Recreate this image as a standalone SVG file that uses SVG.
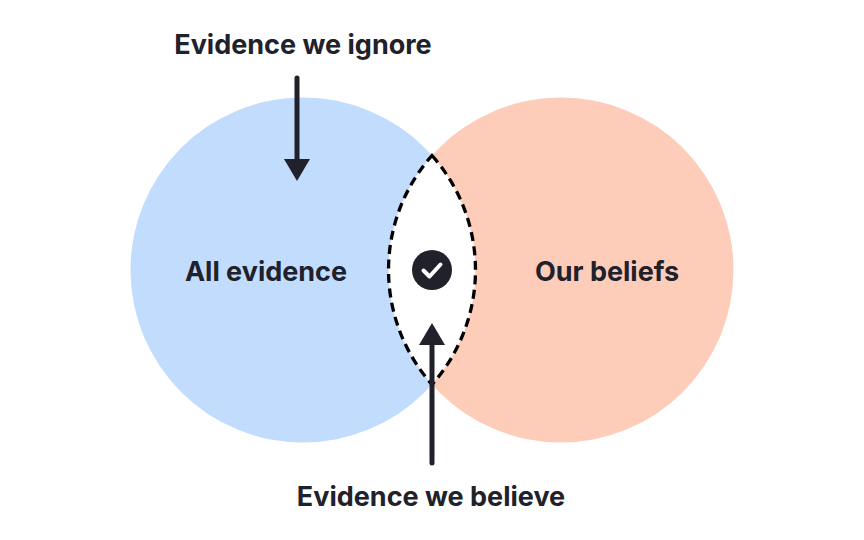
<svg xmlns="http://www.w3.org/2000/svg" width="864" height="540" viewBox="0 0 864 540">
<style>
text{font-family:Inter,"Liberation Sans",sans-serif;font-weight:700;fill:#20212b;font-size:27px;text-anchor:middle}
.ln{stroke:#20212b;stroke-width:5;stroke-linecap:round;fill:none}
.hd{fill:#20212b}
</style>
<rect width="864" height="540" fill="#fff"/>
<g id="all-evidence"><circle cx="303" cy="270" r="172.5" fill="#c2dcfe"/><text x="266" y="281">All evidence</text></g>
<g id="our-beliefs"><circle cx="561" cy="270" r="172.5" fill="#fecdb9"/><text x="607" y="281">Our beliefs</text></g>
<g id="intersection"><path d="M432 155.500A172.500 172.500 0 0 1 432 384.500A172.500 172.500 0 0 1 432 155.500Z" fill="#fff" stroke="#000" stroke-width="3.300" stroke-dasharray="9 5.500"/>
<circle cx="432" cy="270" r="20" fill="#20212b"/><path d="M423.500 270.500l6 6l11-12" fill="none" stroke="#fff" stroke-width="4" stroke-linecap="round" stroke-linejoin="round"/></g>
<g id="label-ignore"><text x="303" y="54">Evidence we ignore</text></g>
<g id="label-believe"><text x="431" y="506">Evidence we believe</text></g>
<g id="connectors">
<path class="ln" d="M297 78V162"/><path class="hd" d="M284 159H310L297 181Z"/>
<path class="ln" d="M432 463V342"/><path class="hd" d="M419 345H445L432 323Z"/>
</g>
</svg>
